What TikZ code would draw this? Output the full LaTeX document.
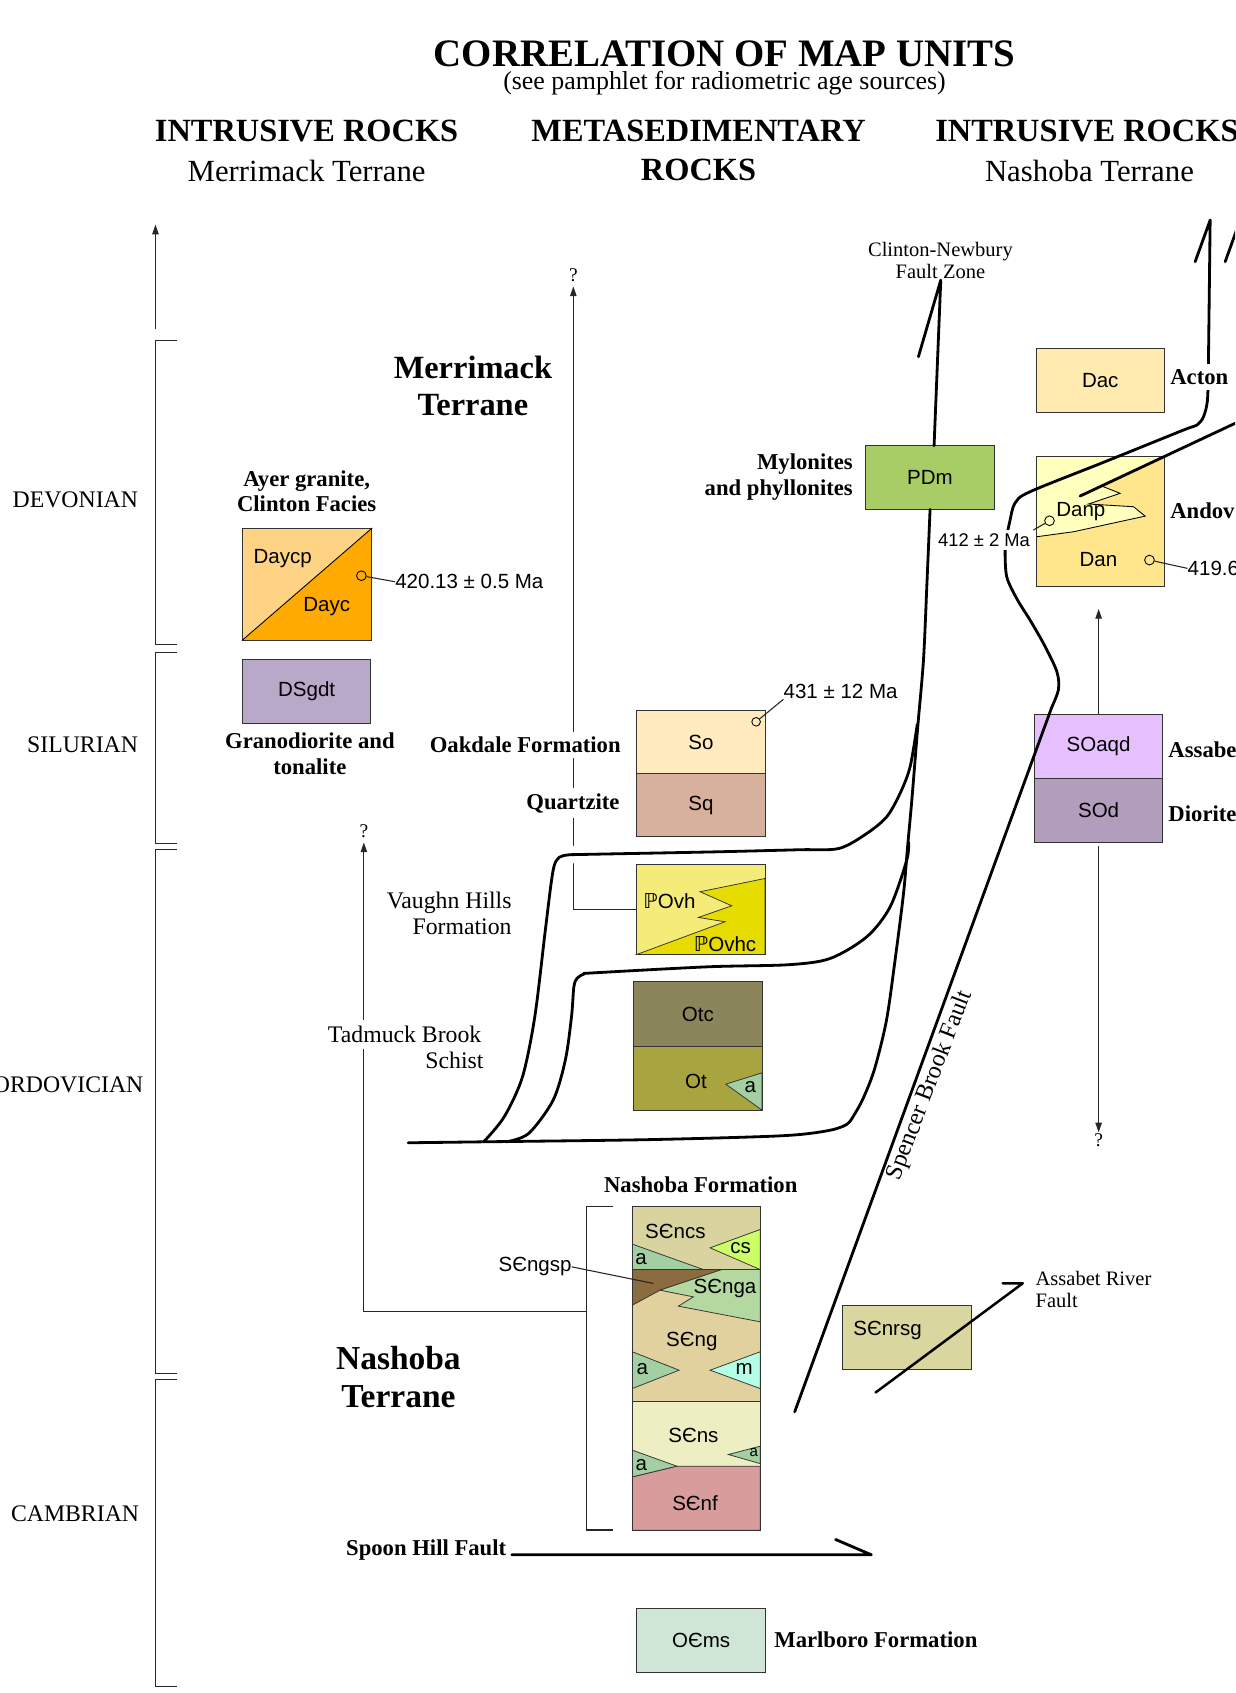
\documentclass[tikz,border=0pt]{standalone}
\usepackage{fontspec}
\setmainfont{Liberation Serif}
\setsansfont{Liberation Sans}
\newfontfamily\symfont{DejaVu Sans}
\usetikzlibrary{arrows.meta}

% unit colours
\definecolor{boxline}{HTML}{333333}
\definecolor{daycpC}{HTML}{FFD384}
\definecolor{daycC}{HTML}{FFAA00}
\definecolor{dsgdtC}{HTML}{B8A9C9}
\definecolor{soC}{HTML}{FFEBBE}
\definecolor{sqC}{HTML}{D7B09E}
\definecolor{povhC}{HTML}{F5EB78}
\definecolor{povhcC}{HTML}{E6DC00}
\definecolor{otcC}{HTML}{8A855A}
\definecolor{otC}{HTML}{A8A440}
\definecolor{aC}{HTML}{A3CFA3}
\definecolor{pdmC}{HTML}{A8CD66}
\definecolor{dacC}{HTML}{FFEAB0}
\definecolor{danpC}{HTML}{FFFFBE}
\definecolor{danC}{HTML}{FFE68C}
\definecolor{soaqdC}{HTML}{E6BFFF}
\definecolor{sodC}{HTML}{B39DBD}
\definecolor{ncsC}{HTML}{D9D49F}
\definecolor{csC}{HTML}{CCFF66}
\definecolor{ngspC}{HTML}{8B6B40}
\definecolor{ngaC}{HTML}{B4D9A0}
\definecolor{ngC}{HTML}{E0D19E}
\definecolor{mC}{HTML}{B4FFE6}
\definecolor{nsC}{HTML}{EDEEC2}
\definecolor{nfC}{HTML}{D89C9C}
\definecolor{nrsgC}{HTML}{D9D79F}
\definecolor{ocmsC}{HTML}{CFE5D6}

\newcommand{\unitfont}{\sffamily\fontsize{19}{22}\selectfont}
\newcommand{\penn}{{\symfont ℙ}}

\begin{document}
\begin{tikzpicture}
	[x=1pt, y=-1pt,
	unitBox/.style={rectangle, draw=boxline, line width=0.9pt, inner sep=0pt, minimum width=118.8pt, minimum height=59pt, font=\unitfont},
	unitLabel/.style={inner sep=0pt, font=\unitfont},
	ageText/.style={inner sep=0pt, font=\unitfont},
	ageDot/.style={circle, draw=black, line width=0.8pt, inner sep=0pt, minimum size=9pt},
	patchEdge/.style={draw=boxline, line width=0.7pt},
	thinLine/.style={line width=1pt, draw=black!85},
	faultLine/.style={line width=2.6pt, line join=round, line cap=round},
	nameText/.style={inner sep=0pt, align=center, font=\bfseries\fontsize{21}{24}\selectfont},
	plainText/.style={inner sep=0pt, align=right, font=\fontsize{22}{24}\selectfont},
	periodText/.style={inner sep=0pt, anchor=east, font=\fontsize{22}{24}\selectfont},
	headText/.style={inner sep=0pt, align=center, font=\bfseries\fontsize{30}{36}\selectfont},
	subText/.style={inner sep=0pt, font=\fontsize{28.5}{32}\selectfont},
	qMark/.style={inner sep=1pt, font=\fontsize{18}{20}\selectfont},
	>={Triangle[length=9pt, width=6pt]}]

	\useasboundingbox (0,0) rectangle (1144,1568);
	\clip (0,0) rectangle (1144,1568);

	% headings
	\node (title) at (671,50) [inner sep=0pt, font=\bfseries\fontsize{36}{40}\selectfont] {CORRELATION OF MAP UNITS};
	\node (subtitle) at (671,77) [inner sep=0pt, font=\fontsize{24}{28}\selectfont] {(see pamphlet for radiometric age sources)};
	\node (leftHead) at (284,121) [headText] {INTRUSIVE ROCKS};
	\node (leftSub) at (284,158) [subText] {Merrimack Terrane};
	\node (midHead) at (647,139) [headText] {METASEDIMENTARY\\ROCKS};
	\node (rightHead) at (866,121) [headText, anchor=west] {INTRUSIVE ROCKS};
	\node (rightSub) at (1009,158) [subText] {Nashoba Terrane};

	% time scale
	\node (devonian) at (128,463) [periodText] {DEVONIAN};
	\node (silurian) at (128,690) [periodText] {SILURIAN};
	\node (ordovician) at (133,1005) [periodText] {ORDOVICIAN};
	\node (cambrian) at (129,1402) [periodText] {CAMBRIAN};
	\coordinate (ageBase) at (144,305);
	\coordinate (ageTop) at (144,208);
	\draw [thinLine, ->] (ageBase) -- (ageTop);
	\draw [thinLine] (164,315) -- (144,315) -- (144,597) -- (164,597);
	\draw [thinLine] (164,604) -- (144,604) -- (144,781) -- (164,781);
	\draw [thinLine] (164,787) -- (144,787) -- (144,1272) -- (164,1272);
	\draw [thinLine] (164,1278) -- (144,1278) -- (144,1562) -- (164,1562);

	% intrusive rocks, Merrimack terrane
	\node (ayer) at (284,455) [nameText] {Ayer granite,\\Clinton Facies};
	\fill [daycpC] (224.5,489.4) -- (344.3,489.4) -- (224.5,592.8) -- cycle;
	\fill [daycC] (344.3,489.4) -- (344.3,592.8) -- (224.5,592.8) -- cycle;
	\node (ayerBox) at (284.4,541.1) [unitBox, minimum width=119.8pt, minimum height=103.4pt] {};
	\draw [line width=0.8pt] (ayerBox.south west) -- (ayerBox.north east);
	\node (daycp) at (261.8,517.2) [unitLabel] {Daycp};
	\node (dayc) at (302.6,561.9) [unitLabel] {Dayc};
	\node (daycDot) at (334.7,533.2) [ageDot] {};
	\node (daycAge) at (365.9,538.8) [ageText, anchor=west] {420.13 ± 0.5 Ma};
	\draw [thinLine] (daycDot) -- (daycAge.west);

	\node (dsgdt) at (284,640.2) [unitBox, fill=dsgdtC, minimum width=119pt, minimum height=59.6pt] {DSgdt};
	\node (dsgdtName) at (287,698.5) [nameText] {Granodiorite and\\tonalite};

	\node (merrimack) at (438,357.5) [inner sep=0pt, align=center, font=\bfseries\fontsize{30}{35}\selectfont] {Merrimack\\Terrane};

	% metasedimentary rocks, Merrimack terrane
	\node (so) at (649.2,687.3) [unitBox, fill=soC, minimum height=58pt] {So};
	\node (sq) at (649.2,745.7) [unitBox, fill=sqC, minimum height=58.7pt] {Sq};
	\node (soDot) at (700.3,668.5) [ageDot, minimum size=8pt] {};
	\node (soAge) at (725.6,640.7) [ageText, anchor=west] {431 ± 12 Ma};
	\draw [thinLine] (soDot) -- (soAge.south west);

	\fill [povhC] (589.7,800.6) rectangle (708.6,884);
	\filldraw [fill=povhcC, patchEdge] (708.6,813.6) -- (648.4,825.9) -- (677.7,838.9) -- (646.8,849.7) -- (671.5,853.7) -- (589.7,884) -- (708.6,884) -- cycle;
	\node (povh) at (649.2,842.3) [unitBox, minimum height=83.4pt] {};
	\node (povhLbl) at (620,834.3) [unitLabel] {\penn Ovh};
	\node (povhcLbl) at (671.5,874.4) [unitLabel] {\penn Ovhc};

	\node (otc) at (646.4,939.1) [unitBox, fill=otcC, minimum height=59.6pt] {Otc};
	\fill [otC] (587,968.9) rectangle (705.8,1028.2);
	\filldraw [fill=aC, patchEdge] (705.8,993.6) -- (672.2,1004.1) -- (705.8,1028.2) -- cycle;
	\node (ot) at (646.4,998.6) [unitBox, minimum height=59.3pt] {};
	\node (otLbl) at (644.6,1001.9) [unitLabel] {Ot};
	\node (otA) at (694.9,1007.1) [unitLabel] {a};

	\node (qMerr) at (531,255) [qMark] {?};
	\draw [thinLine, ->, shorten >=3pt] (povh.west) -| (qMerr);

	% Clinton-Newbury fault zone, upper splay
	\draw [faultLine, preaction={draw=white, line width=16pt}] plot[smooth] coordinates {(448,1057.5) (467,1034.3) (483.9,997.3) (495.3,941.7) (504.7,864.5) (510.4,818.2) (513.5,801) (518,794) (526,791.8) (542.5,791.3) (660,789) (740,787) (777,785.8) (802.8,771.9) (821.3,756.4) (833.6,734.8) (842.9,710.2) (849.5,671)};

	\node (oakdale) at (577,690) [nameText, anchor=east, fill=white, inner xsep=2pt, inner ysep=5pt] {Oakdale Formation};
	\node (quartzite) at (576,744) [nameText, anchor=east, fill=white, inner xsep=2pt, inner ysep=5pt] {Quartzite};
	\node (vaughn) at (474,846) [plainText, anchor=east] {Vaughn Hills\\Formation};

	% Clinton-Newbury fault zone, main trace
	\node (pdm) at (861.2,442.3) [unitBox, fill=pdmC] {PDm};
	\node (mylonites) at (790,441.5) [nameText, anchor=east, align=right] {Mylonites\\and phyllonites};
	\node (clinton) at (871,241.5) [inner sep=0pt, align=center, font=\fontsize{19}{20}\selectfont] {Clinton-Newbury\\Fault Zone};
	\draw [faultLine] (850.6,330.4) -- (871.3,259.4) -- (865.1,412.8);
	\draw [faultLine] plot[smooth] coordinates {(861.4,471.8) (858.5,540) (855.3,611) (850,673) (844.5,741) (840.5,785) (836.8,827.5) (829,889) (821,945) (810,990) (800,1016) (792,1031) (784,1041.5) (765,1047.5) (722,1052) (600,1055.5) (448,1057.5) (378,1058.4)};
	\draw [faultLine] plot[smooth] coordinates {(468.8,1057.5) (489.6,1049.8) (512.3,1018.9) (523.6,981.8) (529.3,941.7) (531.5,914) (534.5,906) (541,902) (550.1,901) (656,895.4) (730,893.5) (768.8,887.7) (802.8,867.6) (824.4,839.9) (839.8,796.6) (841.5,780)};

	% Nashoba formation column
	\node (nashobaFm) at (649,1097) [nameText] {Nashoba Formation};
	\fill [ncsC] (585.7,1117.1) rectangle (704,1175.8);
	\filldraw [fill=aC, patchEdge] (585.7,1152.3) -- (651.5,1175.8) -- (585.7,1175.8) -- cycle;
	\filldraw [fill=csC, patchEdge] (704,1138.7) -- (657.7,1155.7) -- (704,1175.8) -- cycle;
	\fill [ngC] (585.7,1175.8) rectangle (704,1298.4);
	\filldraw [fill=ngspC, patchEdge] (585.7,1175.8) -- (668.5,1175.8) -- (611.3,1194.9) -- (585.7,1208.8) -- cycle;
	\filldraw [fill=ngaC, patchEdge] (668.5,1175.8) -- (704,1175.8) -- (704,1224.2) -- (628.3,1209.7) -- (642.2,1201.1) -- (611.3,1194.9) -- cycle;
	\filldraw [fill=aC, patchEdge] (585.7,1252) -- (628.9,1269) -- (585.7,1286) -- cycle;
	\filldraw [fill=mC, patchEdge] (704,1252) -- (657.7,1269) -- (704,1286) -- cycle;
	\fill [nsC] (585.7,1298.4) rectangle (704,1357.9);
	\filldraw [fill=nfC, patchEdge] (585.7,1367.8) -- (626.8,1357.9) -- (704,1357.9) -- (704,1417.2) -- (585.7,1417.2) -- cycle;
	\filldraw [fill=aC, patchEdge] (585.7,1343.1) -- (626.8,1357.9) -- (585.7,1367.8) -- cycle;
	\filldraw [fill=aC, patchEdge] (704,1339.4) -- (674.6,1347.1) -- (704,1355.5) -- cycle;
	\node (ncs) at (644.85,1146.45) [unitBox, minimum width=118.3pt, minimum height=58.7pt] {};
	\node (ng) at (644.85,1237.1) [unitBox, minimum width=118.3pt, minimum height=122.6pt] {};
	\node (nsf) at (644.85,1357.8) [unitBox, minimum width=118.3pt, minimum height=118.8pt] {};
	\node (ncsLbl) at (625.5,1140.8) [unitLabel] {SЄncs};
	\node (ncsA) at (593.7,1166.5) [unitLabel] {a};
	\node (csLbl) at (686,1155.7) [unitLabel] {cs};
	\node (ngaLbl) at (671.5,1193.3) [unitLabel] {SЄnga};
	\node (ngLbl) at (640.7,1242.7) [unitLabel] {SЄng};
	\node (ngA) at (595,1268) [unitLabel] {a};
	\node (mLbl) at (689.2,1268) [unitLabel] {m};
	\node (nsLbl) at (642.2,1329.2) [unitLabel] {SЄns};
	\node (nsA) at (698.1,1345.3) [unitLabel, font=\sffamily\fontsize{14}{16}\selectfont] {a};
	\node (nfA) at (593.9,1356.5) [unitLabel] {a};
	\node (nfLbl) at (643.7,1392.5) [unitLabel] {SЄnf};
	\node (ngspLbl) at (529.5,1173.3) [unitLabel, anchor=east] {SЄngsp};
	\coordinate (ngspPt) at (605.2,1188.7);
	\draw [thinLine] (ngspLbl.east) -- (ngspPt);

	\draw [thinLine] (568,1117) -- (543.4,1117) -- (543.4,1417) -- (568,1417);
	\coordinate (nashobaBrk) at (543.4,1215);
	\node (qTad) at (337,770) [qMark] {?};
	\draw [thinLine, ->, shorten >=3pt] (nashobaBrk) -| (qTad);
	\node (tadmuck) at (448,958) [plainText, anchor=east, fill=white, inner xsep=2pt, inner ysep=6pt] {Tadmuck Brook};
	\node (schist) at (448,982) [plainText, anchor=east] {Schist};

	\node (nashoba) at (369,1275.5) [inner sep=0pt, align=center, font=\bfseries\fontsize{31}{35}\selectfont] {Nashoba\\Terrane};

	% intrusive rocks, Nashoba terrane
	\node (dac) at (1019,352.3) [unitBox, fill=dacC] {Dac};
	\fill [danC] (959.6,423) rectangle (1078.5,543);
	\fill [danpC] (959.6,423) -- (1078.5,423) -- (1020.5,450.2) -- (1037.4,456.9) -- (1008.1,466.8) -- (1049.8,469.3) -- (1060.6,478) -- (994.2,492.5) -- (960.2,497.1) -- cycle;
	\draw [line width=0.8pt] (1020.5,450.2) -- (1037.4,456.9) -- (1008.1,466.8) -- (1049.8,469.3) -- (1060.6,478) -- (994.2,492.5) -- (960.2,497.1);
	\node (andover) at (1019,483) [unitBox, minimum height=120pt] {};
	\node (danp) at (1001,474) [unitLabel] {Danp};
	\node (dan) at (1017.3,518) [unitLabel] {Dan};
	\node (danDot) at (1064.6,518.7) [ageDot] {};
	\node (danAge) at (1099.8,526.4) [ageText, anchor=west] {419.6};
	\draw [thinLine] (danDot) -- (danAge.west);
	\node (andov) at (1083.7,473) [nameText, anchor=west] {Andov};

	\node (soaqd) at (1017.5,691.4) [unitBox, fill=soaqdC, minimum height=59.6pt] {SOaqd};
	\node (sod) at (1017.5,750.6) [unitBox, fill=sodC, minimum height=58.8pt] {SOd};
	\node (assabe) at (1082,694.7) [nameText, anchor=west] {Assabe};
	\node (diorite) at (1082,754) [nameText, anchor=west] {Diorite};
	\coordinate (danBase) at (1017.5,564);
	\draw [thinLine, ->] (soaqd.north) -- (danBase);
	\node (qSod) at (1017.5,1056) [qMark] {?};
	\draw [thinLine, ->, shorten <=3pt] (sod.south) -- (qSod);

	% Acton contact and Spencer Brook fault
	\draw [faultLine] (1106.9,242.4) -- (1120.8,203.8) -- (1119.2,336.5) -- plot[smooth] coordinates {(1119.2,336.5) (1118.3,370.5) (1114.6,386) (1108.5,393.7) (1096.1,398.3) (1025,427) (954,455.4) (940,466) (935.5,481.7) (932.4,497) (930.9,509.5) (932.4,534.2) (942,555) (954,574.3) (967,597) (978.8,621.9) (980.3,638.5) (974.1,655)} -- (736,1307.6);
	\draw [faultLine] (1134.7,242.4) -- (1148.6,203.8) -- (1150,360) -- (1160,384.5) -- (1000.4,459.4);
	\node (acton) at (1081.7,349) [nameText, anchor=west, fill=white, inner xsep=2pt, inner ysep=5pt] {Acton};
	\node (danpDot) at (972,482.3) [ageDot] {};
	\node (danpAge) at (957,500.2) [ageText, anchor=east, fill=white, inner sep=3pt, font=\sffamily\fontsize{17}{20}\selectfont] {412 ± 2 Ma};
	\draw [thinLine] (danpDot) -- (danpAge.north east);
	\node (spencer) at (861.5,1005.4) [rotate=69, inner sep=0pt, font=\fontsize{22.5}{24}\selectfont] {Spencer Brook Fault};

	% Assabet River fault
	\node (nrsg) at (839.9,1238.8) [unitBox, fill=nrsgC, minimum height=58.9pt] {};
	\node (nrsgLbl) at (822,1232) [unitLabel] {SЄnrsg};
	\draw [faultLine, line width=2.3pt] (810.9,1289.7) -- (947.3,1188.5) -- (928.6,1188.5);
	\node (assabetFault) at (959,1194) [anchor=west, align=left, inner sep=0pt, font=\fontsize{19}{20}\selectfont] {Assabet River\\Fault};

	% Spoon Hill fault and Marlboro formation
	\node (spoon) at (469,1436) [nameText, anchor=east] {Spoon Hill Fault};
	\draw [faultLine] (474,1440) -- (807,1440) -- (773.9,1425.8);
	\node (ocms) at (649.3,1519.1) [unitBox, fill=ocmsC, minimum height=58.9pt] {OЄms};
	\node (marlboro) at (717,1519) [nameText, anchor=west] {Marlboro Formation};

\end{tikzpicture}
\end{document}
